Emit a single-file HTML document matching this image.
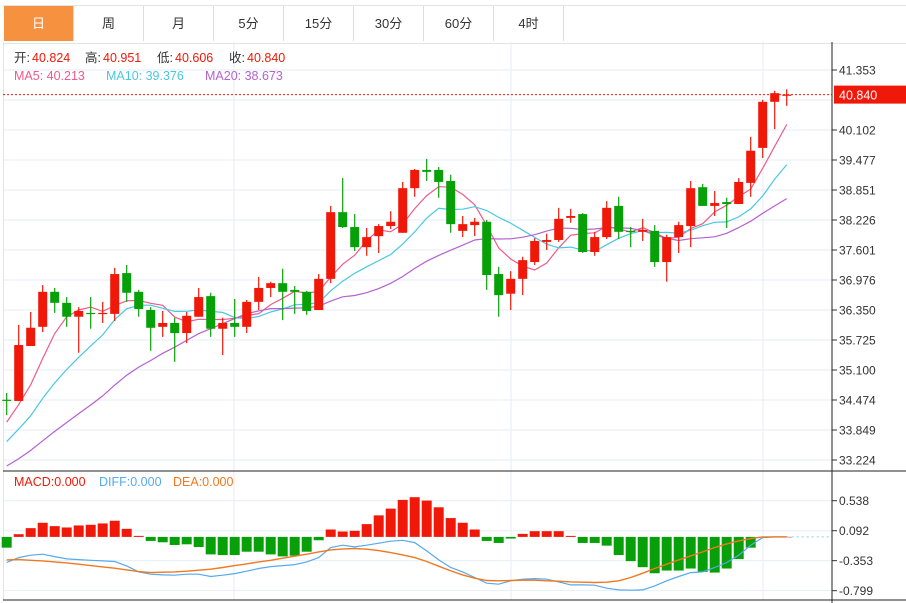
<!DOCTYPE html>
<html><head><meta charset="utf-8"><style>
body{margin:0;background:#fff;font-family:"Liberation Sans","Noto Sans CJK SC",sans-serif;}
#wrap{position:relative;width:906px;height:603px;overflow:hidden;}
.tab{position:absolute;top:6px;height:35px;width:70px;line-height:35px;text-align:center;font-size:13px;color:#333;box-sizing:border-box;border-right:1px solid #ddd;}
</style></head><body>
<div id="wrap">
<div style="position:absolute;left:3px;top:5px;width:903px;height:37px;border-top:1px solid #e3e3e3;border-bottom:1px solid #e3e3e3;"></div>
<div class="tab" style="left:4px;background:#f5913f;color:#fff;">日</div>
<div class="tab" style="left:74px;">周</div>
<div class="tab" style="left:144px;">月</div>
<div class="tab" style="left:214px;">5分</div>
<div class="tab" style="left:284px;">15分</div>
<div class="tab" style="left:354px;">30分</div>
<div class="tab" style="left:424px;">60分</div>
<div class="tab" style="left:494px;">4时</div>
<svg id="svg" width="906" height="603" style="position:absolute;left:0;top:0"></svg>
</div>
<script>
const opens=[34.48,34.455,35.60,36.00,36.73,36.50,36.21,36.29,36.28,36.27,37.12,36.73,36.35,36.00,36.08,35.87,36.21,36.64,35.96,36.08,36.00,36.52,36.81,36.91,36.77,36.73,36.35,37.00,38.39,38.08,37.66,37.89,38.10,37.96,38.89,39.27,39.27,39.04,38.00,38.12,38.19,37.10,36.69,37.00,37.35,37.77,37.81,38.27,38.35,37.56,37.87,38.52,38.00,37.98,38.00,37.35,37.87,38.10,38.91,38.52,38.60,38.56,39.00,39.73,40.69,40.824];
const highs=[34.62,36.04,36.31,36.87,36.81,36.62,36.41,36.62,36.52,37.23,37.29,36.77,36.41,36.33,36.19,36.31,36.81,36.71,36.19,36.58,36.56,37.04,36.94,37.21,36.85,36.75,37.10,38.52,39.10,38.35,38.06,38.14,38.41,39.02,39.29,39.50,39.33,39.17,38.31,38.27,38.23,37.25,37.16,37.46,37.85,37.94,38.48,38.46,38.37,37.98,38.62,38.71,38.08,38.25,38.12,37.92,38.19,39.04,38.98,38.83,38.69,39.10,39.96,40.73,40.92,40.951];
const lows=[34.16,34.455,35.60,35.89,36.29,36.00,35.46,35.96,36.08,36.12,36.52,36.21,35.50,35.79,35.27,35.66,36.21,35.79,35.41,35.79,35.87,36.35,36.62,36.14,36.27,36.25,36.35,36.91,38.06,37.58,37.48,37.54,38.04,37.96,38.71,39.04,38.69,37.96,37.87,37.89,36.77,36.21,36.35,36.66,37.29,37.60,37.77,38.17,37.54,37.48,37.83,37.83,37.66,37.79,37.25,36.94,37.54,37.66,38.52,38.31,38.06,38.56,38.71,39.52,40.12,40.606];
const closes=[34.47,35.62,35.98,36.73,36.50,36.21,36.33,36.28,36.29,37.10,36.71,36.37,35.98,36.08,35.87,36.23,36.62,35.96,36.08,36.00,36.52,36.81,36.91,36.73,36.73,36.33,37.00,38.39,38.08,37.66,37.87,38.10,38.19,38.89,39.27,39.23,39.02,38.14,38.14,38.19,37.08,36.66,37.00,37.39,37.79,37.81,38.25,38.31,37.56,37.87,38.48,37.98,37.98,38.02,37.35,37.87,38.12,38.89,38.52,38.58,38.56,39.02,39.67,40.69,40.87,40.840];
const priorCloses=[32.6,32.5,32.7,32.6,32.5,32.6,32.7,32.5,32.6,32.6,33.0,33.2,33.1,33.3,33.4,33.8,33.9,34.0,33.9];
const macdHist=[-0.16,0.04,0.13,0.21,0.16,0.14,0.17,0.18,0.20,0.24,0.12,0.015,-0.06,-0.08,-0.12,-0.11,-0.15,-0.26,-0.27,-0.27,-0.22,-0.22,-0.26,-0.29,-0.28,-0.22,-0.05,0.11,0.08,0.09,0.19,0.32,0.42,0.55,0.59,0.54,0.44,0.28,0.21,0.11,-0.06,-0.09,-0.025,0.045,0.085,0.085,0.085,0.015,-0.09,-0.09,-0.13,-0.27,-0.36,-0.45,-0.54,-0.50,-0.50,-0.47,-0.52,-0.53,-0.47,-0.33,-0.16,0,0,0];
const diffVals=[-0.381,-0.307,-0.272,-0.257,-0.292,-0.327,-0.337,-0.347,-0.356,-0.366,-0.431,-0.520,-0.554,-0.564,-0.569,-0.554,-0.554,-0.589,-0.569,-0.545,-0.510,-0.470,-0.441,-0.426,-0.411,-0.371,-0.307,-0.158,-0.124,-0.149,-0.124,-0.094,-0.064,-0.050,-0.084,-0.208,-0.342,-0.455,-0.520,-0.604,-0.688,-0.703,-0.653,-0.629,-0.619,-0.629,-0.668,-0.713,-0.713,-0.718,-0.762,-0.787,-0.792,-0.787,-0.728,-0.653,-0.589,-0.530,-0.520,-0.455,-0.381,-0.272,-0.124,-0.010,0,0];
const deaVals=[-0.342,-0.337,-0.347,-0.356,-0.371,-0.386,-0.406,-0.426,-0.446,-0.465,-0.490,-0.515,-0.530,-0.525,-0.520,-0.510,-0.495,-0.480,-0.455,-0.426,-0.401,-0.371,-0.347,-0.317,-0.287,-0.257,-0.223,-0.193,-0.178,-0.173,-0.183,-0.203,-0.233,-0.267,-0.307,-0.366,-0.436,-0.505,-0.564,-0.614,-0.648,-0.653,-0.648,-0.644,-0.644,-0.653,-0.658,-0.668,-0.673,-0.678,-0.673,-0.653,-0.604,-0.540,-0.470,-0.406,-0.342,-0.282,-0.223,-0.158,-0.104,-0.059,-0.025,0,0,0];
const priceTicks=["41.353","40.728","40.102","39.477","38.851","38.226","37.601","36.976","36.350","35.725","35.100","34.474","33.849","33.224"];
const macdTicks=["0.538","0.092","-0.353","-0.799"];

const svg=document.getElementById('svg');
const NS='http://www.w3.org/2000/svg';
function mk(tag,attrs,parent){const e=document.createElementNS(NS,tag);for(const k in attrs)e.setAttribute(k,attrs[k]);(parent||svg).appendChild(e);return e;}
const AX=832;
function xOf(i){return 6.7+i*12;}
function yP(p){return 70+(41.353-p)*(390/8.129);}
function yM(v){return 536.9-v*67.3;}

// grids
for(let k=0;k<14;k++){const y=70+k*30;
const g=mk('line',{x1:3,x2:AX,y1:y,y2:y,stroke:'#e6eef5','stroke-width':1});
}
[234,511,763].forEach(x=>{const g=mk('line',{x1:x,x2:x,y1:42,y2:600,stroke:'#e6eef5','stroke-width':1});
});
[0.538,0.092,-0.353,-0.799].forEach(v=>{const g=mk('line',{x1:3,x2:AX,y1:yM(v),y2:yM(v),stroke:'#e6eef5'});
});
let l=mk('line',{x1:3.5,x2:3.5,y1:42,y2:600,stroke:'#e3e3e3'});


// price ticks
priceTicks.forEach((t,k)=>{const y=70+k*30;
if(k===1)return;
const tk=mk('line',{x1:AX,x2:AX+5,y1:y,y2:y,stroke:'#333'});

const tx=mk('text',{x:AX+7,y:y+4.5,'font-size':12,fill:'#333'});tx.textContent=t;
});
[0.538,0.092,-0.353,-0.799].forEach((v,k)=>{const y=yM(v);
const tk=mk('line',{x1:AX,x2:AX+5,y1:y,y2:y,stroke:'#333'});

const tx=mk('text',{x:AX+7,y:y+4.5,'font-size':12,fill:'#333'});tx.textContent=macdTicks[k];
});

// MA
const all=priorCloses.concat(closes);
function ma(n){return closes.map((c,i)=>{const j=i+priorCloses.length;let s=0;for(let k=j-n+1;k<=j;k++)s+=all[k];return s/n;});}
[[5,'#ef5b8a','ma5-line'],[10,'#48c8e0','ma10-line'],[20,'#b561d0','ma20-line']].forEach(([n,c,name])=>{
const m=ma(n);const pts=m.map((v,i)=>xOf(i)+','+yP(v).toFixed(1)).join(' ');
const pl=mk('polyline',{points:pts,fill:'none',stroke:c,'stroke-width':1.2});
});

// candles
closes.forEach((c,i)=>{const o=opens[i];const up=c>=o;const col=up?'#f01808':'#08a008';const x=xOf(i);
const w=mk('line',{x1:x,x2:x,y1:yP(highs[i]),y2:yP(lows[i]),stroke:col,'stroke-width':1.2});

const top=yP(Math.max(o,c)),bot=yP(Math.min(o,c));
const r=mk('rect',{x:x-4.5,y:top,width:9,height:Math.max(1.2,bot-top),fill:col});
});

// last price line
const lp=closes[closes.length-1];
l=mk('line',{x1:3,x2:AX,y1:yP(lp),y2:yP(lp),stroke:'#f01808','stroke-dasharray':'2,2'});

l=mk('rect',{x:AX+2,y:yP(lp)-9,width:74,height:18,fill:'#f01808'});

l=mk('text',{x:AX+7,y:yP(lp)+5,'font-size':12.5,fill:'#fff'});l.textContent=lp.toFixed(3);


// MACD
macdHist.forEach((v,i)=>{const x=xOf(i);const y0=yM(0),y1=yM(v);
const r=mk('rect',{x:x-5,y:Math.min(y0,y1),width:10,height:Math.max(0.5,Math.abs(y1-y0)),fill:v>=0?'#f01808':'#08a008'});
});
l=mk('line',{x1:xOf(65),x2:AX,y1:yM(0),y2:yM(0),stroke:'#8ccbe8','stroke-dasharray':'2,3'});

l=mk('polyline',{points:diffVals.map((v,i)=>xOf(i)+','+yM(v).toFixed(1)).join(' '),fill:'none',stroke:'#55aaee','stroke-width':1.2});

l=mk('polyline',{points:deaVals.map((v,i)=>xOf(i)+','+yM(v).toFixed(1)).join(' '),fill:'none',stroke:'#f07820','stroke-width':1.4});


// frame lines
l=mk('line',{x1:AX,x2:AX,y1:42,y2:603,stroke:'#222'});
l=mk('line',{x1:3,x2:906,y1:471,y2:471,stroke:'#222'});
l=mk('line',{x1:3,x2:906,y1:600,y2:600,stroke:'#222'});

// legends
function txt(x,y,s,c,name){const t=mk('text',{x:x,y:y,'font-size':12.5,fill:c});t.textContent=s;}
txt(14,62,'开:','#333','open-label');txt(32,62,'40.824','#f01808','open-value');
txt(85,62,'高:','#333','high-label');txt(103,62,'40.951','#f01808','high-value');
txt(157,62,'低:','#333','low-label');txt(175,62,'40.606','#f01808','low-value');
txt(229,62,'收:','#333','close-label');txt(247,62,'40.840','#f01808','close-value');
txt(14,80,'MA5: 40.213','#ef5b8a','ma5-legend');
txt(106,80,'MA10: 39.376','#48c8e0','ma10-legend');
txt(205,80,'MA20: 38.673','#b561d0','ma20-legend');
txt(14,486,'MACD:0.000','#f01808','macd-legend');
txt(99,486,'DIFF:0.000','#55aaee','diff-legend');
txt(173,486,'DEA:0.000','#f07820','dea-legend');
</script>
</body></html>
